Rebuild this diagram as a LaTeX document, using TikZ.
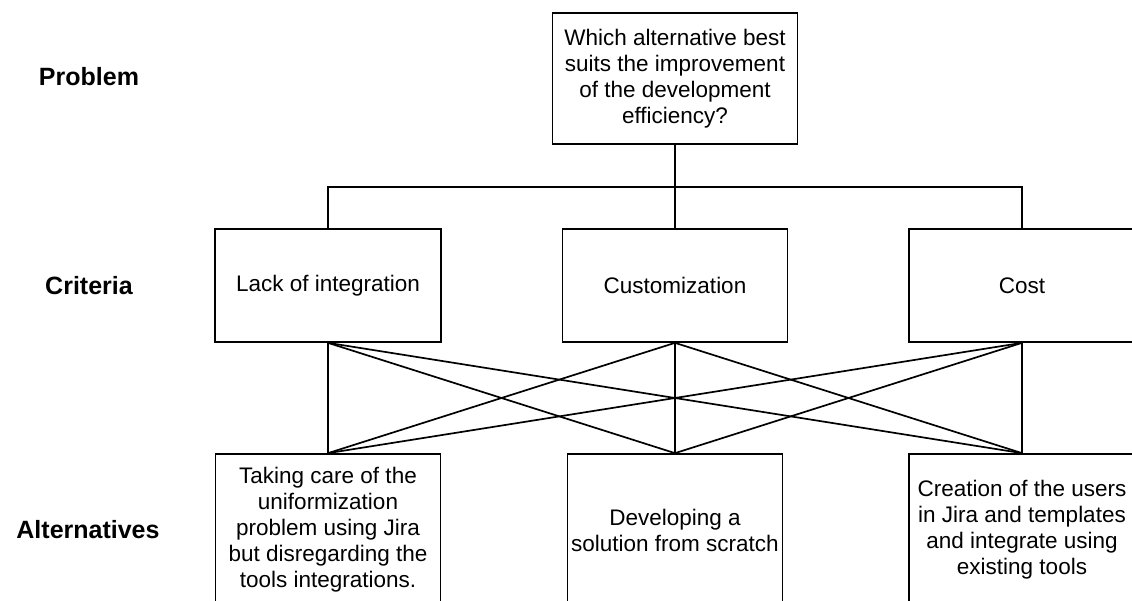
\documentclass[tikz,border=0pt]{standalone}
\usepackage{fontspec}
\setmainfont{Liberation Sans}
\usetikzlibrary{positioning}
\begin{document}
\begin{tikzpicture}[x=1pt,y=-1pt,
  box/.style={draw=black, line width=1.7pt, fill=white, align=center,
    inner sep=0pt, font=\fontsize{22.5}{26}\selectfont},
  level/.style={font=\fontsize{25}{30}\selectfont\bfseries, anchor=center},
  link/.style={draw=black, line width=1.7pt}]
  \clip (0,0) rectangle (1132,601);
  \fill[white] (0,0) rectangle (1132,601);

  % row labels
  \node[level] (lp) at (89,77) {Problem};
  \node[level] (lc) at (89,286) {Criteria};
  \node[level] (la) at (88,530) {Alternatives};

  % goal
  \node[box, minimum width=245pt, minimum height=131pt] (goal) at (675,78.5)
    {Which alternative best\\suits the improvement\\of the development\\efficiency?};

  % criteria
  \node[box, minimum width=226pt, minimum height=113pt] (c1) at (328,285.5) {Lack of integration};
  \node[box, minimum width=225pt, minimum height=113pt] (c2) at (675,285.5) {Customization};
  \node[box, minimum width=226pt, minimum height=113pt] (c3) at (1022,285.5) {Cost};

  % alternatives
  \node[box, minimum width=225pt, minimum height=152pt] (a1) at (328,530)
    {Taking care of the\\uniformization\\problem using Jira\\but disregarding the\\tools integrations.};
  \node[box, minimum width=215pt, minimum height=152pt] (a2) at (675,530)
    {Developing a\\solution from scratch};
  \node[box, minimum width=226pt, minimum height=152pt] (a3) at (1022,530)
    {Creation of the users\\in Jira and templates\\and integrate using\\existing tools};

  % goal to criteria
  \coordinate (bus) at (675,187);
  \draw[link] (goal.south) -- (bus);
  \draw[link] (c1.north) |- (bus) -| (c3.north);
  \draw[link] (bus) -- (c2.north);

  % criteria to alternatives
  \foreach \c in {c1,c2,c3}
    \foreach \a in {a1,a2,a3}
      \draw[link] (\c.south) -- (\a.north);
\end{tikzpicture}
\end{document}
